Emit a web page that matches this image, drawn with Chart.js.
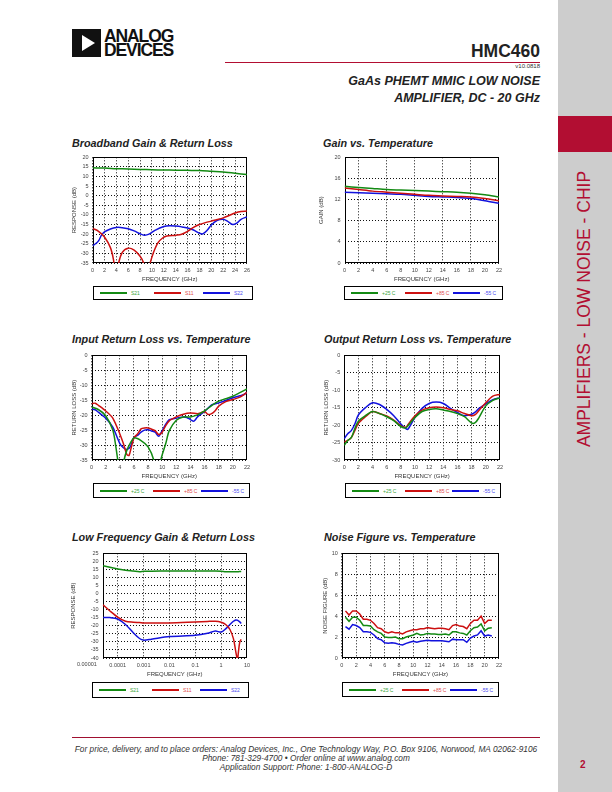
<!DOCTYPE html>
<html>
<head>
<meta charset="utf-8">
<script src="https://cdn.jsdelivr.net/npm/chart.js@4/dist/chart.umd.min.js"></script>
<style>
body { margin: 0; width: 612px; height: 792px; position: relative; background: #fff; overflow: hidden;
  font-family: "Liberation Sans", Arial, sans-serif; color: #222; }
.a { position: absolute; white-space: nowrap; line-height: 1; }
canvas { position: absolute; }
.side { position: absolute; left: 558px; top: 0; width: 54px; height: 792px; background: #cdcdcd; }
.sideRed { position: absolute; left: 558px; top: 116px; width: 54px; height: 36px; background: #b20e32; }
.vt { position: absolute; left: 585px; top: 309px; transform: translate(-50%, -50%) rotate(-90deg);
  color: #b20e32; font-size: 17.5px; white-space: nowrap; line-height: 1; }
.ct { font-size: 10.8px; font-weight: bold; font-style: italic; color: #222; }
.legend { position: absolute; border: 1px solid #000; box-sizing: border-box; background: #fff; }
.legend .ln { position: absolute; height: 2px; width: 27px; }
.legend .lt { position: absolute; font-size: 5px; line-height: 1; white-space: nowrap; }
</style>
</head>
<body>
<div class="side"></div>
<div class="sideRed"></div>
<div class="vt">AMPLIFIERS - LOW NOISE - CHIP</div>

<!-- header -->
<div class="a" style="left:72px;top:29px;width:29px;height:28px;background:#111;"></div>
<div class="a" style="left:82px;top:35px;width:0;height:0;border-top:8.5px solid transparent;border-bottom:8.5px solid transparent;border-left:13px solid #fff;"></div>
<div class="a" style="left:104px;top:28.2px;font-size:17.5px;font-weight:bold;letter-spacing:-1.1px;color:#111;">ANALOG</div>
<div class="a" style="left:104px;top:42.2px;font-size:17.5px;font-weight:bold;letter-spacing:-1.1px;color:#111;">DEVICES</div>
<div class="a" style="right:72px;top:42.6px;font-size:17.5px;font-weight:bold;color:#222;">HMC460</div>
<div class="a" style="left:225px;top:61.5px;width:315px;height:1.3px;background:#b20e32;"></div>
<div class="a" style="right:72px;top:63.4px;font-size:6px;color:#333;">v10.0818</div>
<div class="a" style="right:72px;top:75.1px;font-size:12.5px;font-weight:bold;font-style:italic;color:#222;">GaAs PHEMT MMIC LOW NOISE</div>
<div class="a" style="right:72px;top:92.4px;font-size:12.5px;font-weight:bold;font-style:italic;color:#222;">AMPLIFIER, DC - 20 GHz</div>

<!-- chart titles -->
<div class="a ct" style="left:72px;top:137.6px;">Broadband Gain &amp; Return Loss</div>
<div class="a ct" style="left:323px;top:137.6px;">Gain vs. Temperature</div>
<div class="a ct" style="left:72px;top:334.2px;">Input Return Loss vs. Temperature</div>
<div class="a ct" style="left:324px;top:334.2px;">Output Return Loss vs. Temperature</div>
<div class="a ct" style="left:72px;top:532.2px;">Low Frequency Gain &amp; Return Loss</div>
<div class="a ct" style="left:324px;top:532.2px;">Noise Figure vs. Temperature</div>

<canvas id="c1"></canvas>
<canvas id="c2"></canvas>
<canvas id="c3"></canvas>
<canvas id="c4"></canvas>
<canvas id="c5"></canvas>
<canvas id="c6"></canvas>

<!-- footer -->
<div class="a" style="left:72px;top:737px;width:468px;height:1px;background:#a01030;"></div>
<div class="a" style="left:72px;top:744.5px;width:468px;text-align:center;font-size:8.3px;line-height:9.3px;font-style:italic;color:#333;white-space:normal;">
For price, delivery, and to place orders: Analog Devices, Inc., One Technology Way, P.O. Box 9106, Norwood, MA 02062-9106<br>
Phone: 781-329-4700 &bull; Order online at www.analog.com<br>
Application Support: Phone: 1-800-ANALOG-D</div>
<div class="a" style="left:580px;top:760px;font-size:10px;font-weight:bold;color:#b20e32;">2</div>

<script>
// ---- Broadband Gain & Return Loss ----
const bbXTicks = [0, 2, 4, 6, 8, 10, 12, 14, 16, 18, 20, 22, 24, 26];
const bbYTicks = [-35, -30, -25, -20, -15, -10, -5, 0, 5, 10, 15, 20];
const bbS21Freq = [0, 2, 4, 6, 8, 10, 12, 14, 16, 18, 20, 22, 24, 26];
const bbS21 = [14.5, 14.4, 14.1, 13.9, 13.7, 13.5, 13.4, 13.3, 13.2, 13.1, 12.7, 12.3, 11.7, 11.0];
const bbS11Freq = [0, 1, 2, 3, 3.5, 3.9, 4.3, 5, 6, 7, 8, 8.6, 9.1, 9.6, 10.2, 11, 11.8, 12.5, 14, 15, 16, 17, 18, 19, 20, 21, 22, 23, 24, 25, 26];
const bbS11 = [-17, -18.5, -21.5, -27, -33, -42, -36, -29.5, -27.3, -28.3, -31.5, -35, -42, -36, -30, -24.5, -22, -21, -20.5, -20, -18.5, -16.5, -15, -14, -13.2, -12.4, -11.5, -10.3, -9, -8.2, -8];
const bbS22Freq = [0, 0.5, 1, 1.5, 2, 3, 4, 5, 6, 7, 8, 8.7, 9.5, 10.5, 12, 13, 14, 15, 16, 17, 18, 18.6, 19.3, 20, 21, 22, 22.7, 23.6, 24.3, 25, 26];
const bbS22 = [-26, -25, -23.5, -20.5, -18.8, -17.3, -16.5, -16.6, -17.2, -18.3, -19.8, -20.5, -20, -18, -16, -15.6, -15.8, -16.2, -16.8, -17.8, -19.5, -19.8, -18, -15.2, -12.8, -12.2, -13.2, -15, -14.2, -12.3, -11];

// ---- Gain vs. Temperature ----
const gtXTicks = [0, 2, 4, 6, 8, 10, 12, 14, 16, 18, 20, 22];
const gtYTicks = [0, 4, 8, 12, 16, 20];
const gtFreq = [0, 2, 4, 6, 8, 10, 12, 14, 16, 18, 20, 22];
const gt25 = [14.5, 14.3, 14.1, 13.9, 13.8, 13.7, 13.6, 13.5, 13.4, 13.2, 12.9, 12.5];
const gt85 = [14.2, 13.9, 13.6, 13.4, 13.2, 13.0, 12.8, 12.7, 12.6, 12.5, 12.2, 11.8];
const gtM55 = [13.4, 13.3, 13.2, 13.1, 13.0, 12.8, 12.6, 12.5, 12.4, 12.2, 11.8, 11.3];

// ---- Input Return Loss vs. Temperature ----
const irXTicks = [0, 2, 4, 6, 8, 10, 12, 14, 16, 18, 20, 22];
const irYTicks = [-35, -30, -25, -20, -15, -10, -5, 0];
const ir25Freq = [0, 1, 2, 3, 3.4, 3.7, 4.1, 4.6, 5, 5.5, 6, 7, 8, 8.8, 9.3, 9.8, 10.5, 11, 12, 13, 14, 15, 16, 17, 18, 19, 20, 21, 22];
const ir25 = [-17.3, -18.2, -20.2, -25, -30, -35, -42, -35, -31.7, -29.3, -27.6, -28.5, -30.6, -35, -42, -35, -29.5, -25.2, -21.7, -20.6, -20.6, -19.9, -18.6, -16.8, -15.3, -14.5, -13.7, -12.5, -11.2];
const ir85Freq = [0, 0.5, 1, 2, 3, 4, 4.5, 5, 5.3, 5.6, 6, 6.5, 7, 7.5, 8, 8.5, 9, 9.5, 10, 10.5, 11, 12, 13, 14, 15, 15.5, 16, 16.5, 17, 17.5, 18, 19, 20, 21, 22];
const ir85 = [-16.2, -16, -16.8, -18.6, -21, -26.3, -29.5, -33.2, -33.5, -31, -27.6, -26.3, -24.6, -24.3, -24.3, -24.7, -25.2, -26.5, -25.7, -23.5, -21.9, -20.6, -19.7, -19.3, -19.5, -19.2, -18.8, -19.8, -19.5, -18.5, -17, -15.5, -14.8, -14, -12.4];
const irM55Freq = [0, 0.5, 1, 2, 3, 4, 4.5, 5, 5.5, 6, 6.5, 7, 7.5, 8, 8.5, 9, 9.5, 10, 10.5, 11, 12, 13, 13.5, 14, 14.5, 15, 16, 17, 18, 19, 20, 21, 21.5, 22];
const irM55 = [-18, -18.2, -19.1, -21, -24, -29.5, -30.9, -31.5, -30.5, -27.4, -26.8, -25.7, -25, -24.9, -25.3, -25.7, -27.1, -25.2, -23, -21.5, -21, -20.6, -20.8, -21.5, -22, -20.6, -18.8, -16.6, -15.9, -15.1, -14.2, -13.5, -13.2, -12.4];

// ---- Output Return Loss vs. Temperature ----
const orXTicks = [0, 2, 4, 6, 8, 10, 12, 14, 16, 18, 20, 22];
const orYTicks = [-30, -25, -20, -15, -10, -5, 0];
const orFreq = [0, 0.5, 1, 1.5, 2, 3, 4, 5, 6, 7, 8, 8.7, 9, 10, 11, 12, 13, 14, 15, 16, 17, 18, 18.5, 19, 20, 21, 22];
const or25 = [-25.8, -24.4, -23.6, -21, -18.9, -17.3, -16.1, -16.7, -17.6, -18.7, -20.4, -20.8, -20.2, -17.8, -16.1, -15.5, -15.3, -15.7, -16.1, -16.7, -17.6, -19.4, -19.3, -18, -14.5, -12.9, -12.2];
const or85 = [-24.8, -24.4, -23.6, -21.6, -19.5, -17.6, -16.1, -16.7, -17.4, -18.6, -20.2, -20.6, -19.9, -17.3, -15.7, -15, -14.8, -15, -15.5, -15.9, -16.7, -17.3, -17, -15.9, -13.6, -11.7, -11.2];
const orM55 = [-23.9, -22.5, -21.6, -19.7, -17.1, -15, -13.6, -14.1, -15.5, -17.3, -19.7, -21, -21.2, -17.8, -15.2, -13.8, -13.4, -13.8, -15.2, -16.4, -17.3, -16.9, -16.3, -15.3, -13.9, -12.7, -12.2];

// ---- Low Frequency Gain & Return Loss ----
const lfXTicks = [0.0001, 0.001, 0.01, 0.1, 1, 10];
const lfXLabels = ['0.0001', '0.001', '0.01', '0.1', '1', '10'];
const lfYTicks = [-40, -35, -30, -25, -20, -15, -10, -5, 0, 5, 10, 15, 20, 25];
const lfFreq = [0.000027, 0.00005, 0.0001, 0.0002, 0.0004, 0.0007, 0.001, 0.002, 0.01, 0.1, 0.3, 0.6, 1, 1.5, 2.2, 3, 3.7, 4.3, 4.7, 5.3, 6];
const lfS21 = [17.3, 16.3, 15.2, 14.5, 14.0, 13.6, 13.8, 13.9, 14.0, 14.0, 14.0, 14.0, 13.9, 13.6, 13.5, 13.5, 13.6, 13.6, 13.6, 13.7, 13.7];
const lfS11 = [-7, -10.8, -14.6, -17.2, -17.8, -18, -18.2, -18.2, -18.2, -17.6, -17.3, -17.2, -17.8, -19.2, -22.3, -28, -36, -41, -36, -30, -28.5];
const lfS22 = [-14.8, -14.9, -15.8, -19.2, -24.3, -27.9, -28.9, -28.3, -26.7, -25.9, -24.7, -23.3, -23.9, -21.9, -19.2, -17.2, -16.4, -16.6, -17.0, -17.6, -18.6];

// ---- Noise Figure vs. Temperature ----
const nfXTicks = [0, 2, 4, 6, 8, 10, 12, 14, 16, 18, 20, 22];
const nfYTicks = [0, 2, 4, 6, 8, 10];
const nfFreq = [0.5, 1, 1.5, 2, 2.5, 3, 3.5, 4, 4.5, 5, 5.5, 6, 6.5, 7, 7.5, 8, 8.5, 9, 9.5, 10, 10.5, 11, 11.5, 12, 12.5, 13, 13.5, 14, 14.5, 15, 15.5, 16, 16.5, 17, 17.5, 18, 18.5, 19, 19.5, 20, 20.5, 21];
const nf25 = [3.9, 3.5, 3.9, 3.9, 3.6, 3.1, 3.1, 3.05, 2.7, 2.5, 2.35, 2.0, 1.95, 1.95, 2.0, 1.85, 1.85, 2.0, 2.1, 2.2, 2.35, 2.2, 2.25, 2.35, 2.3, 2.3, 2.25, 2.25, 2.3, 2.2, 2.5, 2.5, 2.4, 2.35, 2.2, 2.6, 2.9, 2.95, 3.25, 2.6, 2.85, 2.9];
const nf85 = [4.5, 4.1, 4.5, 4.5, 4.2, 3.7, 3.7, 3.6, 3.3, 2.9, 2.8, 2.5, 2.4, 2.5, 2.4, 2.4, 2.3, 2.5, 2.6, 2.7, 2.7, 2.8, 2.8, 2.9, 2.85, 2.8, 2.85, 2.85, 2.8, 2.7, 3.1, 3.2, 3.05, 3.0, 2.8, 3.3, 3.6, 3.6, 4.0, 3.3, 3.6, 3.6];
const nfM55 = [3.0, 2.75, 3.2, 3.1, 2.9, 2.5, 2.5, 2.45, 2.2, 1.85, 1.75, 1.45, 1.4, 1.45, 1.4, 1.3, 1.25, 1.4, 1.5, 1.6, 1.5, 1.6, 1.65, 1.7, 1.65, 1.65, 1.65, 1.65, 1.6, 1.55, 1.8, 1.75, 1.75, 1.75, 1.5, 1.9, 2.1, 2.2, 2.6, 2.1, 2.2, 2.1];

const GREEN = '#138a13', RED = '#cc1010', BLUE = '#1212dd';
const LEG_TEXT = { [GREEN]: '#3aa53a', [RED]: '#e04a4a', [BLUE]: '#4b4bf0' };

Chart.defaults.font.family = '"Liberation Sans", Arial, sans-serif';

// solid box round the plot area, grid lines are dotted
const frame = {
  id: 'frame',
  beforeDatasetsDraw(chart) {
    const a = chart.chartArea, ctx = chart.ctx;
    ctx.save();
    ctx.strokeStyle = '#000';
    ctx.lineWidth = 1;
    ctx.strokeRect(Math.round(a.left) + 0.5, Math.round(a.top) + 0.5,
      Math.round(a.right - a.left) - 1, Math.round(a.bottom - a.top) - 1);
    ctx.restore();
  }
};

function scale(ticks, labels, title, size, opt) {
  opt = opt || {};
  return {
    type: opt.log ? 'logarithmic' : 'linear',
    min: opt.min !== undefined ? opt.min : Math.min(...ticks),
    max: Math.max(...ticks),
    afterBuildTicks: s => { s.ticks = ticks.map(v => ({ value: v })); },
    afterFit: s => { if (s.isHorizontal()) s.height = size; else s.width = size; },
    grid: { drawTicks: false, lineWidth: 1, color: opt.gridColor || '#111' },
    border: { display: false, dash: [1, 2] },
    ticks: { padding: 4, color: '#444', font: { size: 5.5 }, autoSkip: false, maxRotation: 0,
      callback: (v, i) => labels[i] },
    title: { display: true, text: title, color: '#333', font: { size: 6 }, padding: 0 }
  };
}

function series(label, xs, ys, color, tension) {
  return { label, data: xs.map((x, i) => ({ x, y: ys[i] })), borderColor: color,
    borderWidth: 1.5, pointRadius: 0, fill: false, tension };
}

function plot(id, area, yW, xs, ys, datasets, legendBox, plugins) {
  const [l, t, r, b] = area;
  const cv = document.getElementById(id);
  cv.width = yW + (r - l) + 6;
  cv.height = 5 + (b - t) + 20;
  cv.style.left = (l - yW) + 'px';
  cv.style.top = (t - 5) + 'px';
  const chart = new Chart(cv, {
    type: 'line',
    data: { datasets },
    options: {
      responsive: false, animation: false, devicePixelRatio: 1,
      layout: { padding: { top: 5, right: 6, left: 0, bottom: 0 } },
      plugins: { legend: { display: false }, title: { display: false }, tooltip: { enabled: false } },
      scales: { x: xs, y: ys }
    },
    plugins: [frame].concat(plugins || [])
  });
  legend(chart, legendBox);
  return chart;
}

function legend(chart, box) {
  const [l, t, r, b] = box;
  const d = document.createElement('div');
  d.className = 'legend';
  Object.assign(d.style, { left: l + 'px', top: t + 'px', width: (r - l) + 'px', height: (b - t) + 'px' });
  const w = r - l, mid = Math.round((b - t) / 2) - 1;
  [0.04, 0.375, 0.68].forEach((f, i) => {
    const ds = chart.data.datasets[i];
    const x0 = Math.round(w * f);
    const ln = document.createElement('div');
    ln.className = 'ln';
    Object.assign(ln.style, { left: x0 + 'px', top: (mid - 1) + 'px', background: ds.borderColor });
    const tx = document.createElement('div');
    tx.className = 'lt';
    tx.textContent = ds.label;
    Object.assign(tx.style, { left: (x0 + 31) + 'px', top: (mid - 2.5) + 'px', color: LEG_TEXT[ds.borderColor] });
    d.appendChild(ln);
    d.appendChild(tx);
  });
  document.body.appendChild(d);
}

const lin = a => a.map(String);
const FREQ = 'FREQUENCY (GHz)';

plot('c1', [93, 155, 249, 263], 21.6,
  scale(bbXTicks, lin(bbXTicks), FREQ, 20),
  scale(bbYTicks, lin(bbYTicks), 'RESPONSE (dB)', 21.6),
  [series('S21', bbS21Freq, bbS21, GREEN, 0.3),
   series('S11', bbS11Freq, bbS11, RED, 0.35),
   series('S22', bbS22Freq, bbS22, BLUE, 0.35)],
  [93, 286, 253, 300]);

plot('c2', [345, 155, 501, 263], 26.6,
  scale(gtXTicks, lin(gtXTicks), FREQ, 20,
    { gridColor: c => (c.tick && c.tick.value % 4 === 2) ? '#111' : 'rgba(0,0,0,0)' }),
  scale(gtYTicks, lin(gtYTicks), 'GAIN (dB)', 26.6),
  [series('+25 C', gtFreq, gt25, GREEN, 0.3),
   series('+85 C', gtFreq, gt85, RED, 0.3),
   series('-55 C', gtFreq, gtM55, BLUE, 0.3)],
  [344, 286, 503, 300]);

plot('c3', [92, 353, 249, 460], 20.6,
  scale(irXTicks, lin(irXTicks), FREQ, 20),
  scale(irYTicks, lin(irYTicks), 'RETURN LOSS (dB)', 20.6),
  [series('+25 C', ir25Freq, ir25, GREEN, 0.3),
   series('+85 C', ir85Freq, ir85, RED, 0.25),
   series('-55 C', irM55Freq, irM55, BLUE, 0.25)],
  [93, 483, 250, 498]);

plot('c4', [344, 353, 501, 460], 21.2,
  scale(orXTicks, lin(orXTicks), FREQ, 20),
  scale(orYTicks, lin(orYTicks), 'RETURN LOSS (dB)', 21.2),
  [series('+25 C', orFreq, or25, GREEN, 0.3),
   series('+85 C', orFreq, or85, RED, 0.3),
   series('-55 C', orFreq, orM55, BLUE, 0.3)],
  [345, 483, 501, 498]);

// the 0.00001 label sits left of the plot box, drawn through the x scale
const lfLeftLabel = {
  id: 'lfLeftLabel',
  afterDraw(chart) {
    const s = chart.scales.x, ctx = chart.ctx;
    ctx.save();
    ctx.fillStyle = '#444';
    ctx.font = '5.5px "Liberation Sans", Arial, sans-serif';
    ctx.textAlign = 'center';
    ctx.textBaseline = 'top';
    ctx.fillText('0.00001', s.getPixelForValue(0.00001) - 5, chart.chartArea.bottom + 4);
    ctx.restore();
  }
};

plot('c5', [103, 551, 249, 658], 32.6,
  scale(lfXTicks, lfXLabels, FREQ, 20, { log: true, min: 0.000026 }),
  scale(lfYTicks, lin(lfYTicks), 'RESPONSE (dB)', 32.6),
  [series('S21', lfFreq, lfS21, GREEN, 0.3),
   series('S11', lfFreq, lfS11, RED, 0.3),
   series('S22', lfFreq, lfS22, BLUE, 0.3)],
  [92, 682, 249, 698], [lfLeftLabel]);

plot('c6', [342, 551, 501, 658], 19.9,
  scale(nfXTicks, lin(nfXTicks), FREQ, 20),
  scale(nfYTicks, lin(nfYTicks), 'NOISE FIGURE (dB)', 19.9),
  [series('+25 C', nfFreq, nf25, GREEN, 0),
   series('+85 C', nfFreq, nf85, RED, 0),
   series('-55 C', nfFreq, nfM55, BLUE, 0)],
  [342, 682, 499, 697]);
</script>
</body>
</html>
